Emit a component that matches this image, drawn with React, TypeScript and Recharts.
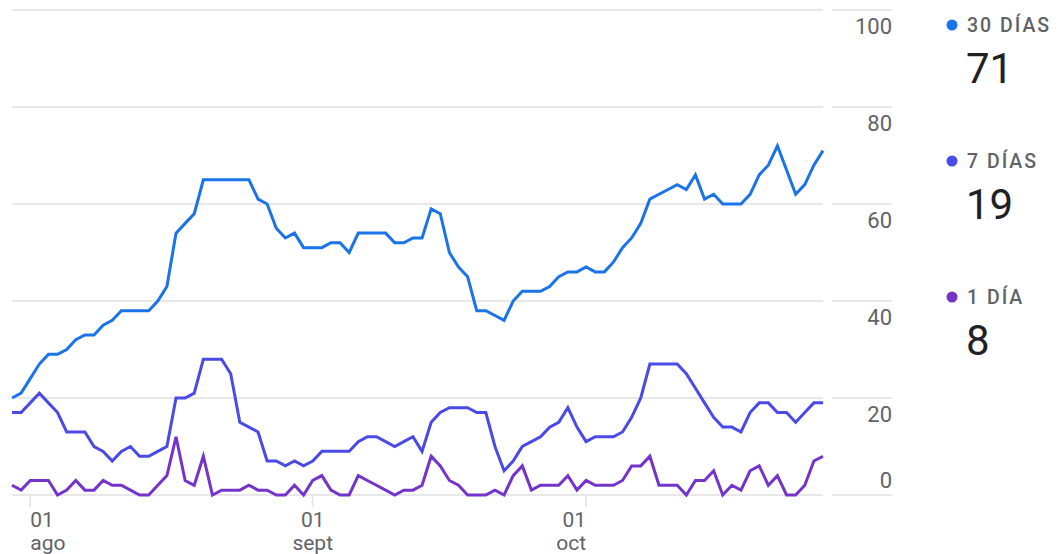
import { LineChart, Line, XAxis, YAxis, CartesianGrid } from "recharts";

// one point per day, 30 jul .. 27 oct
const days30 = [
  20, 21, 24, 27, 29, 29, 30, 32, 33, 33, 35, 36, 38, 38, 38,
  38, 40, 43, 54, 56, 58, 65, 65, 65, 65, 65, 65, 61, 60, 55, 53,
  54, 51, 51, 51, 52, 52, 50, 54, 54, 54, 54, 52, 52, 53, 53,
  59, 58, 50, 47, 45, 38, 38, 37, 36, 40, 42, 42, 42, 43, 45,
  46, 46, 47, 46, 46, 48, 51, 53, 56, 61, 62, 63, 64, 63, 66, 61,
  62, 60, 60, 60, 62, 66, 68, 72, 67, 62, 64, 68, 71,
];

const days7 = [
  17, 17, 19, 21, 19, 17, 13, 13, 13, 10, 9, 7, 9, 10, 8,
  8, 9, 10, 20, 20, 21, 28, 28, 28, 25, 15, 14, 13, 7, 7, 6,
  7, 6, 7, 9, 9, 9, 9, 11, 12, 12, 11, 10, 11, 12, 9,
  15, 17, 18, 18, 18, 17, 17, 10, 5, 7, 10, 11, 12, 14, 15,
  18, 14, 11, 12, 12, 12, 13, 16, 20, 27, 27, 27, 27, 25, 22, 19,
  16, 14, 14, 13, 17, 19, 19, 17, 17, 15, 17, 19, 19,
];

const days1 = [
  2, 1, 3, 3, 3, 0, 1, 3, 1, 1, 3, 2, 2, 1, 0,
  0, 2, 4, 12, 3, 2, 8, 0, 1, 1, 1, 2, 1, 1, 0, 0,
  2, 0, 3, 4, 1, 0, 0, 4, 3, 2, 1, 0, 1, 1, 2,
  8, 6, 3, 2, 0, 0, 0, 1, 0, 4, 6, 1, 2, 2, 2,
  4, 1, 3, 2, 2, 2, 3, 6, 6, 8, 2, 2, 2, 0, 3, 3,
  5, 0, 2, 1, 5, 6, 2, 4, 0, 0, 2, 7, 8,
];

// x ticks: day index of 01 ago, 01 sept, 01 oct
const xTicks = [2, 33, 63];
const tickDay = ["01", "01", "01"];
const tickMonth = ["ago", "sept", "oct"];
const yTicks = [0, 20, 40, 60, 80, 100];

const seriesNames = ["30 DÍAS", "7 DÍAS", "1 DÍA"];
const seriesKeys = ["d30", "d7", "d1"];
const COLORS = ["#1a73e8", "#4a4ae8", "#7434cc"];

const GRID = "#e8e8e8";
const TEXT = "#5f6368";

const data = days30.map((v, i) => ({ i, d30: v, d7: days7[i], d1: days1[i] }));
const lastValues = [days30, days7, days1].map((s) => s[s.length - 1]);

function XTick({ x, y, payload }: any) {
  const k = xTicks.indexOf(payload.value);
  const anchor = k === 0 ? "start" : k === xTicks.length - 1 ? "end" : "middle";
  return (
    <g>
      <line x1={x} x2={x} y1={y} y2={y + 12} stroke={GRID} strokeWidth={2} />
      <text x={x} y={y + 32} textAnchor={anchor} fill={TEXT} fontSize={21}>
        {tickDay[k]}
      </text>
      <text x={x} y={y + 55} textAnchor={anchor} fill={TEXT} fontSize={21}>
        {tickMonth[k]}
      </text>
    </g>
  );
}

function YTick({ x, y, payload }: any) {
  const below = payload.value !== 0;
  return (
    <g>
      <line x1={x + 9} x2={x + 69} y1={y} y2={y} stroke={GRID} strokeWidth={2} />
      <text
        x={x + 69}
        y={below ? y + 24 : y - 7}
        textAnchor="end"
        fill={TEXT}
        fontSize={22}
      >
        {payload.value}
      </text>
    </g>
  );
}

export default function App() {
  return (
    <div
      style={{
        position: "absolute",
        left: 0,
        top: 0,
        width: 1059,
        height: 554,
        background: "#fff",
        fontFamily: "Roboto, sans-serif",
      }}
    >
      <LineChart
        width={900}
        height={554}
        data={data}
        margin={{ top: 10, right: 0, left: 12, bottom: 0 }}
      >
        <CartesianGrid vertical={false} stroke={GRID} strokeWidth={2} />
        <XAxis
          dataKey="i"
          type="number"
          domain={[0, 89]}
          ticks={xTicks}
          height={59}
          axisLine={false}
          tickLine={false}
          tickSize={0}
          tickMargin={0}
          tick={<XTick />}
          interval={0}
        />
        <YAxis
          orientation="right"
          type="number"
          domain={[0, 100]}
          ticks={yTicks}
          width={77}
          axisLine={false}
          tickLine={false}
          tickSize={0}
          tickMargin={0}
          tick={<YTick />}
          interval={0}
        />
        {seriesKeys.map((k, i) => (
          <Line
            key={k}
            dataKey={k}
            type="linear"
            stroke={COLORS[i]}
            strokeWidth={3}
            dot={false}
            isAnimationActive={false}
          />
        ))}
      </LineChart>

      {/* legend */}
      <svg
        width={1059}
        height={554}
        style={{ position: "absolute", left: 0, top: 0, pointerEvents: "none" }}
      >
        {seriesNames.map((name, i) => {
          const top = i * 136;
          return (
            <g key={name}>
              <circle cx={952} cy={25 + top} r={5.5} fill={COLORS[i]} />
              <text
                x={967}
                y={32 + top}
                fontSize={19.5}
                fontWeight={500}
                letterSpacing={2}
                fill={TEXT}
              >
                {name}
              </text>
              <text x={966} y={83 + top} fontSize={42} fill="#202124">
                {lastValues[i]}
              </text>
            </g>
          );
        })}
      </svg>
    </div>
  );
}
